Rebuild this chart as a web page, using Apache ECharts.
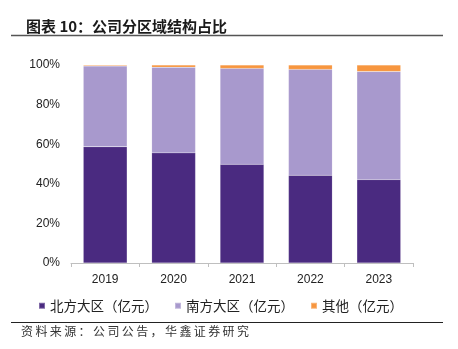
<!DOCTYPE html>
<html>
<head>
<meta charset="utf-8">
<script src="https://cdn.jsdelivr.net/npm/echarts@6/dist/echarts.min.js"></script>
<style>
  html, body { margin: 0; padding: 0; background: #fff; }
  #chart { width: 458px; height: 349px; }
</style>
</head>
<body>
<div id="chart"></div>
<script>
// Regional revenue structure, share of total (%)
const years = ['2019', '2020', '2021', '2022', '2023'];
const northShare = [58.7, 55.6, 49.8, 44.3, 42.1];
const southShare = [40.8, 43.3, 48.5, 53.5, 54.6];
const otherShare = [0.5, 1.1, 1.7, 2.2, 3.3];
const yTicks = [0, 20, 40, 60, 80, 100];

const seriesNames = ['北方大区（亿元）', '南方大区（亿元）', '其他（亿元）'];
const seriesColors = ['#4A2A80', '#A899CD', '#F7963F'];
const seriesData = [northShare, southShare, otherShare];

const cjkFont = '"Noto Sans CJK SC", "Noto Sans", sans-serif';
// thin spacing between characters for the footnote line
const spaced = s => Array.from(s).join('\u2009');

const chart = echarts.init(document.getElementById('chart'), null, { renderer: 'canvas' });

chart.setOption({
  backgroundColor: '#fff',
  animation: false,
  title: {
    text: '图表 10：公司分区域结构占比',
    left: 21,
    top: 14,
    textStyle: { fontFamily: cjkFont, fontSize: 15, fontWeight: 'bold', color: '#1a1a1a' }
  },
  graphic: [
    { type: 'line', shape: { x1: 11, y1: 35.5, x2: 443, y2: 35.5 }, style: { stroke: '#555', lineWidth: 1.5 } },
    { type: 'line', shape: { x1: 11, y1: 322.5, x2: 443, y2: 322.5 }, style: { stroke: '#222', lineWidth: 1.2 } },
    {
      type: 'text', left: 21, top: 325,
      style: { text: spaced('资料来源：公司公告，华鑫证券研究'), font: '12px ' + cjkFont, fill: '#333' }
    }
  ],
  legend: {
    top: 294,
    left: 33,
    itemWidth: 6,
    itemHeight: 6,
    itemGap: 16,
    icon: 'rect',
    textStyle: { fontFamily: cjkFont, fontSize: 13.5, color: '#222' },
    data: seriesNames
  },
  grid: { left: 71, right: 45, top: 65, bottom: 86 },
  xAxis: {
    type: 'category',
    data: years,
    axisLine: { lineStyle: { color: '#bfbfbf', width: 1 } },
    axisTick: { show: true, length: 4, lineStyle: { color: '#bfbfbf' } },
    axisLabel: { color: '#222', fontSize: 12, margin: 11, fontFamily: 'Arial, "Liberation Sans", sans-serif' }
  },
  yAxis: {
    type: 'value',
    min: yTicks[0],
    max: yTicks[yTicks.length - 1],
    interval: 20,
    splitLine: { show: false },
    axisLine: { show: false },
    axisTick: { show: false },
    axisLabel: {
      formatter: '{value}%',
      color: '#222',
      fontSize: 12,
      margin: 11,
      fontFamily: 'Arial, "Liberation Sans", sans-serif'
    }
  },
  series: seriesNames.map((name, i) => ({
    name: name,
    type: 'bar',
    stack: 'share',
    barWidth: '64%',
    data: seriesData[i],
    itemStyle: { color: seriesColors[i], borderColor: 'rgba(255,255,255,0.3)', borderWidth: 0.4 }
  }))
});
</script>
</body>
</html>
